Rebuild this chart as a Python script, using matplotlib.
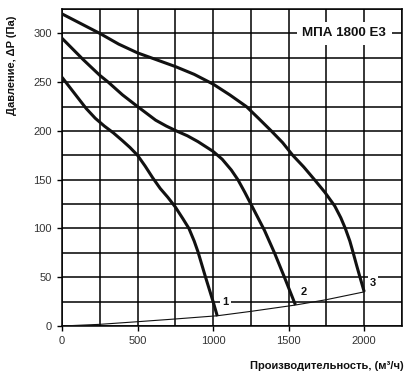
import matplotlib
matplotlib.use("Agg")
import matplotlib.pyplot as plt
from matplotlib.ticker import MultipleLocator

plt.rcParams['font.family'] = ['Liberation Sans', 'DejaVu Sans']

# Fan curves (flow m3/h, pressure Pa)
c1_x = [0, 80, 160, 220, 280, 340, 400, 450, 500, 550, 600, 650, 700, 750, 800, 840, 875, 900, 950, 1000, 1028]
c1_y = [255, 239, 223, 213, 205, 198, 190, 183, 175, 164, 152, 141, 132, 122, 110, 100, 87, 76, 50, 25, 10]

c2_x = [0, 141, 250, 306, 400, 500, 560, 620, 690, 757, 830, 900, 1000, 1060, 1120, 1164, 1210, 1250,
        1300, 1340, 1406, 1472, 1545]
c2_y = [295, 273, 257, 250, 237, 225, 218, 211, 205, 200, 195, 189, 179, 171, 160, 150, 137, 125,
        110, 98, 75, 50, 21.5]

c3_x = [0, 125, 250, 375, 500, 625, 750, 875, 1000, 1110, 1220, 1300, 1385, 1460, 1527, 1600, 1671,
        1740, 1805, 1845, 1875, 1905, 1927, 1950, 1972, 2000]
c3_y = [320, 310, 300, 289, 280, 273, 266, 258, 248, 237, 225, 213, 200, 188, 175, 163, 150,
        137, 123, 111, 100, 87, 75, 62, 50, 35]

# System curve
sys_x = [0, 250, 500, 750, 1028, 1250, 1545, 1750, 2000]
sys_y = [0, 1.7, 4.4, 7.2, 10.5, 15, 21.5, 27, 35]

curve_labels = ["1", "2", "3"]
label_pos = [(1083, 24.6), (1597, 35), (2060, 44)]

title = "МПА 1800 Е3"
xlabel = "Производительность, (м³/ч)"
ylabel = "Давление, ΔP (Па)"

fig = plt.figure(figsize=(4.10, 3.78), dpi=100)
ax = fig.add_axes([62/410, 1-326/378, 340/410, 317/378])

ax.set_xlim(0, 2250)
ax.set_ylim(0, 325)
ax.xaxis.set_major_locator(MultipleLocator(500))
ax.xaxis.set_minor_locator(MultipleLocator(250))
ax.yaxis.set_major_locator(MultipleLocator(50))
ax.yaxis.set_minor_locator(MultipleLocator(25))
ax.grid(True, which='both', color='black', linewidth=1.1)
ax.set_axisbelow(True)
ax.tick_params(which='major', direction='out', length=3.5, width=1.0, labelsize=8,
               labelcolor='#333333', pad=4)
ax.tick_params(which='minor', length=0)
for s in ax.spines.values():
    s.set_linewidth(1.1)
    s.set_color('black')

for xs, ys in [(c1_x, c1_y), (c2_x, c2_y), (c3_x, c3_y)]:
    ax.plot(xs, ys, color='#111111', linewidth=2.2, solid_joinstyle='round',
            solid_capstyle='butt', zorder=3)
ax.plot(sys_x, sys_y, color='#111111', linewidth=0.8, zorder=3)

for lab, (lx, ly) in zip(curve_labels, label_pos):
    ax.text(lx, ly, lab, fontsize=8, fontweight='bold', ha='center', va='center',
            color='#111111', zorder=4,
            bbox=dict(facecolor='white', edgecolor='none', pad=1.5))

ax.text(1868, 300, title, fontsize=9.6, fontweight='bold', ha='center', va='center',
        color='#111111', zorder=4,
        bbox=dict(facecolor='white', edgecolor='none', boxstyle='square,pad=0.4'))

fig.text(12/410, 1-65/378, ylabel, rotation=90, ha='center', va='center',
         fontsize=8, fontweight='bold', color='#111111')
fig.text(404/410, 1-366/378, xlabel, ha='right', va='center',
         fontsize=8, fontweight='bold', color='#111111')

fig.savefig("out.png", dpi=100)
